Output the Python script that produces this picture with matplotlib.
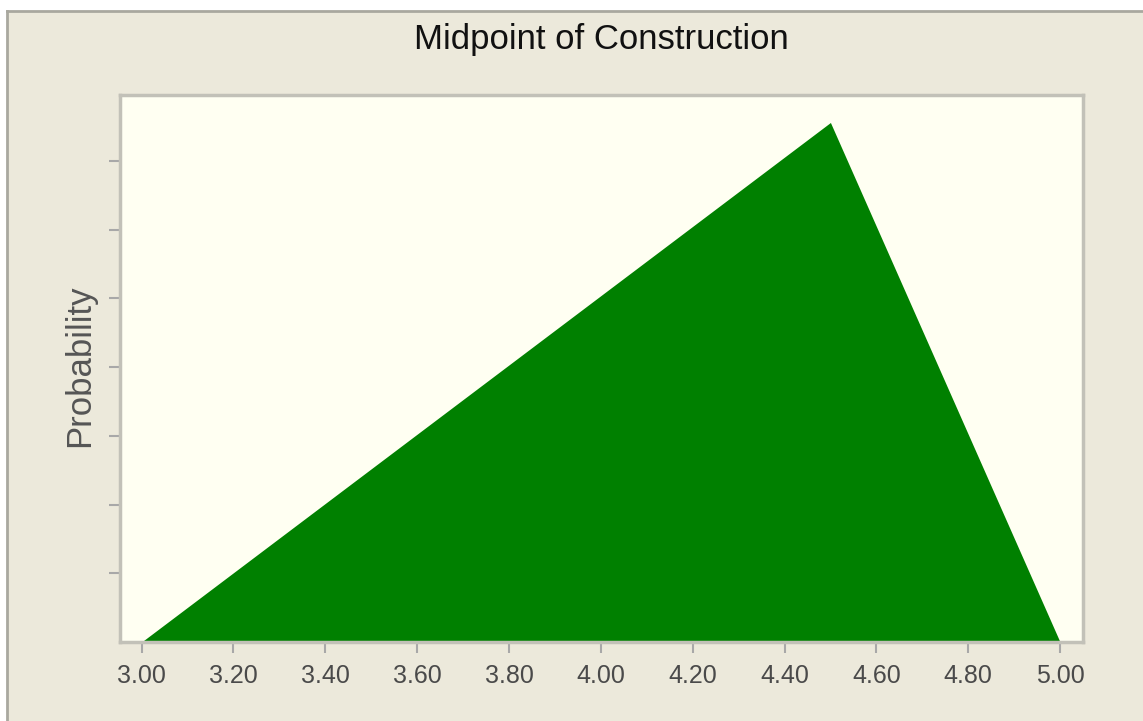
import matplotlib
matplotlib.use("Agg")
import matplotlib.pyplot as plt
from matplotlib.patches import Rectangle
import numpy as np

# Data: triangular distribution (min, mode, max)
x_points = [3.0, 4.5, 5.0]
y_points = [0.0, 0.0378, 0.0]
x_ticks = [3.0, 3.2, 3.4, 3.6, 3.8, 4.0, 4.2, 4.4, 4.6, 4.8, 5.0]
x_tick_labels = ["3.00", "3.20", "3.40", "3.60", "3.80", "4.00", "4.20", "4.40", "4.60", "4.80", "5.00"]
y_ticks = [0.005, 0.010, 0.015, 0.020, 0.025, 0.030, 0.035]
title = "Midpoint of Construction"
y_label = "Probability"

W, H = 1143, 721
fig = plt.figure(figsize=(W / 100, H / 100), dpi=100)
fig.patch.set_facecolor("white")

# outer panel
panel = Rectangle((8 / W, 0), 1 - 8 / W, 1 - 12 / H, transform=fig.transFigure,
                  facecolor="#ECE9DB", edgecolor="none", zorder=-10)
fig.add_artist(panel)
fig.add_artist(plt.Line2D([7 / W, 7 / W], [0, 1 - 11 / H], transform=fig.transFigure,
                          color="#A9A89F", lw=2, zorder=-9))
fig.add_artist(plt.Line2D([7 / W, 1], [1 - 11 / H, 1 - 11 / H], transform=fig.transFigure,
                          color="#A9A89F", lw=2, zorder=-9))

left, right, top, bottom = 120, 1083, 95, 642
ax = fig.add_axes([left / W, 1 - bottom / H, (right - left) / W, (bottom - top) / H])
ax.set_zorder(5)
ax.set_facecolor("#FFFFF2")

ax.fill_between(x_points, y_points, 0, color="#008000", linewidth=0)

ax.set_xlim(2.953, 5.050)
ax.set_ylim(0.0, 0.0398)
ax.set_xticks(x_ticks)
narrow = ["Liberation Sans Narrow", "DejaVu Sans Condensed", "Liberation Sans", "DejaVu Sans"]
ax.set_xticklabels(x_tick_labels, family=narrow, fontsize=18, color="#4A4A4A")
ax.set_yticks(y_ticks)
ax.set_yticklabels([])
ax.tick_params(axis="both", direction="out", length=8, width=1.5, color="#A8A8A8", pad=8)

for s in ax.spines.values():
    s.set_color("#C2C1B8")
    s.set_linewidth(2.5)

fig.text(601 / W, 1 - 40 / H, title, ha="center", va="center", fontsize=25,
         family=narrow, color="#111111", zorder=6)
fig.text(80 / W, 1 - 366 / H, y_label, ha="center", va="center", rotation=90,
         fontsize=25, family=["Liberation Sans", "DejaVu Sans"], color="#555555", zorder=6)

fig.savefig("out.png", dpi=100, facecolor=fig.get_facecolor())
